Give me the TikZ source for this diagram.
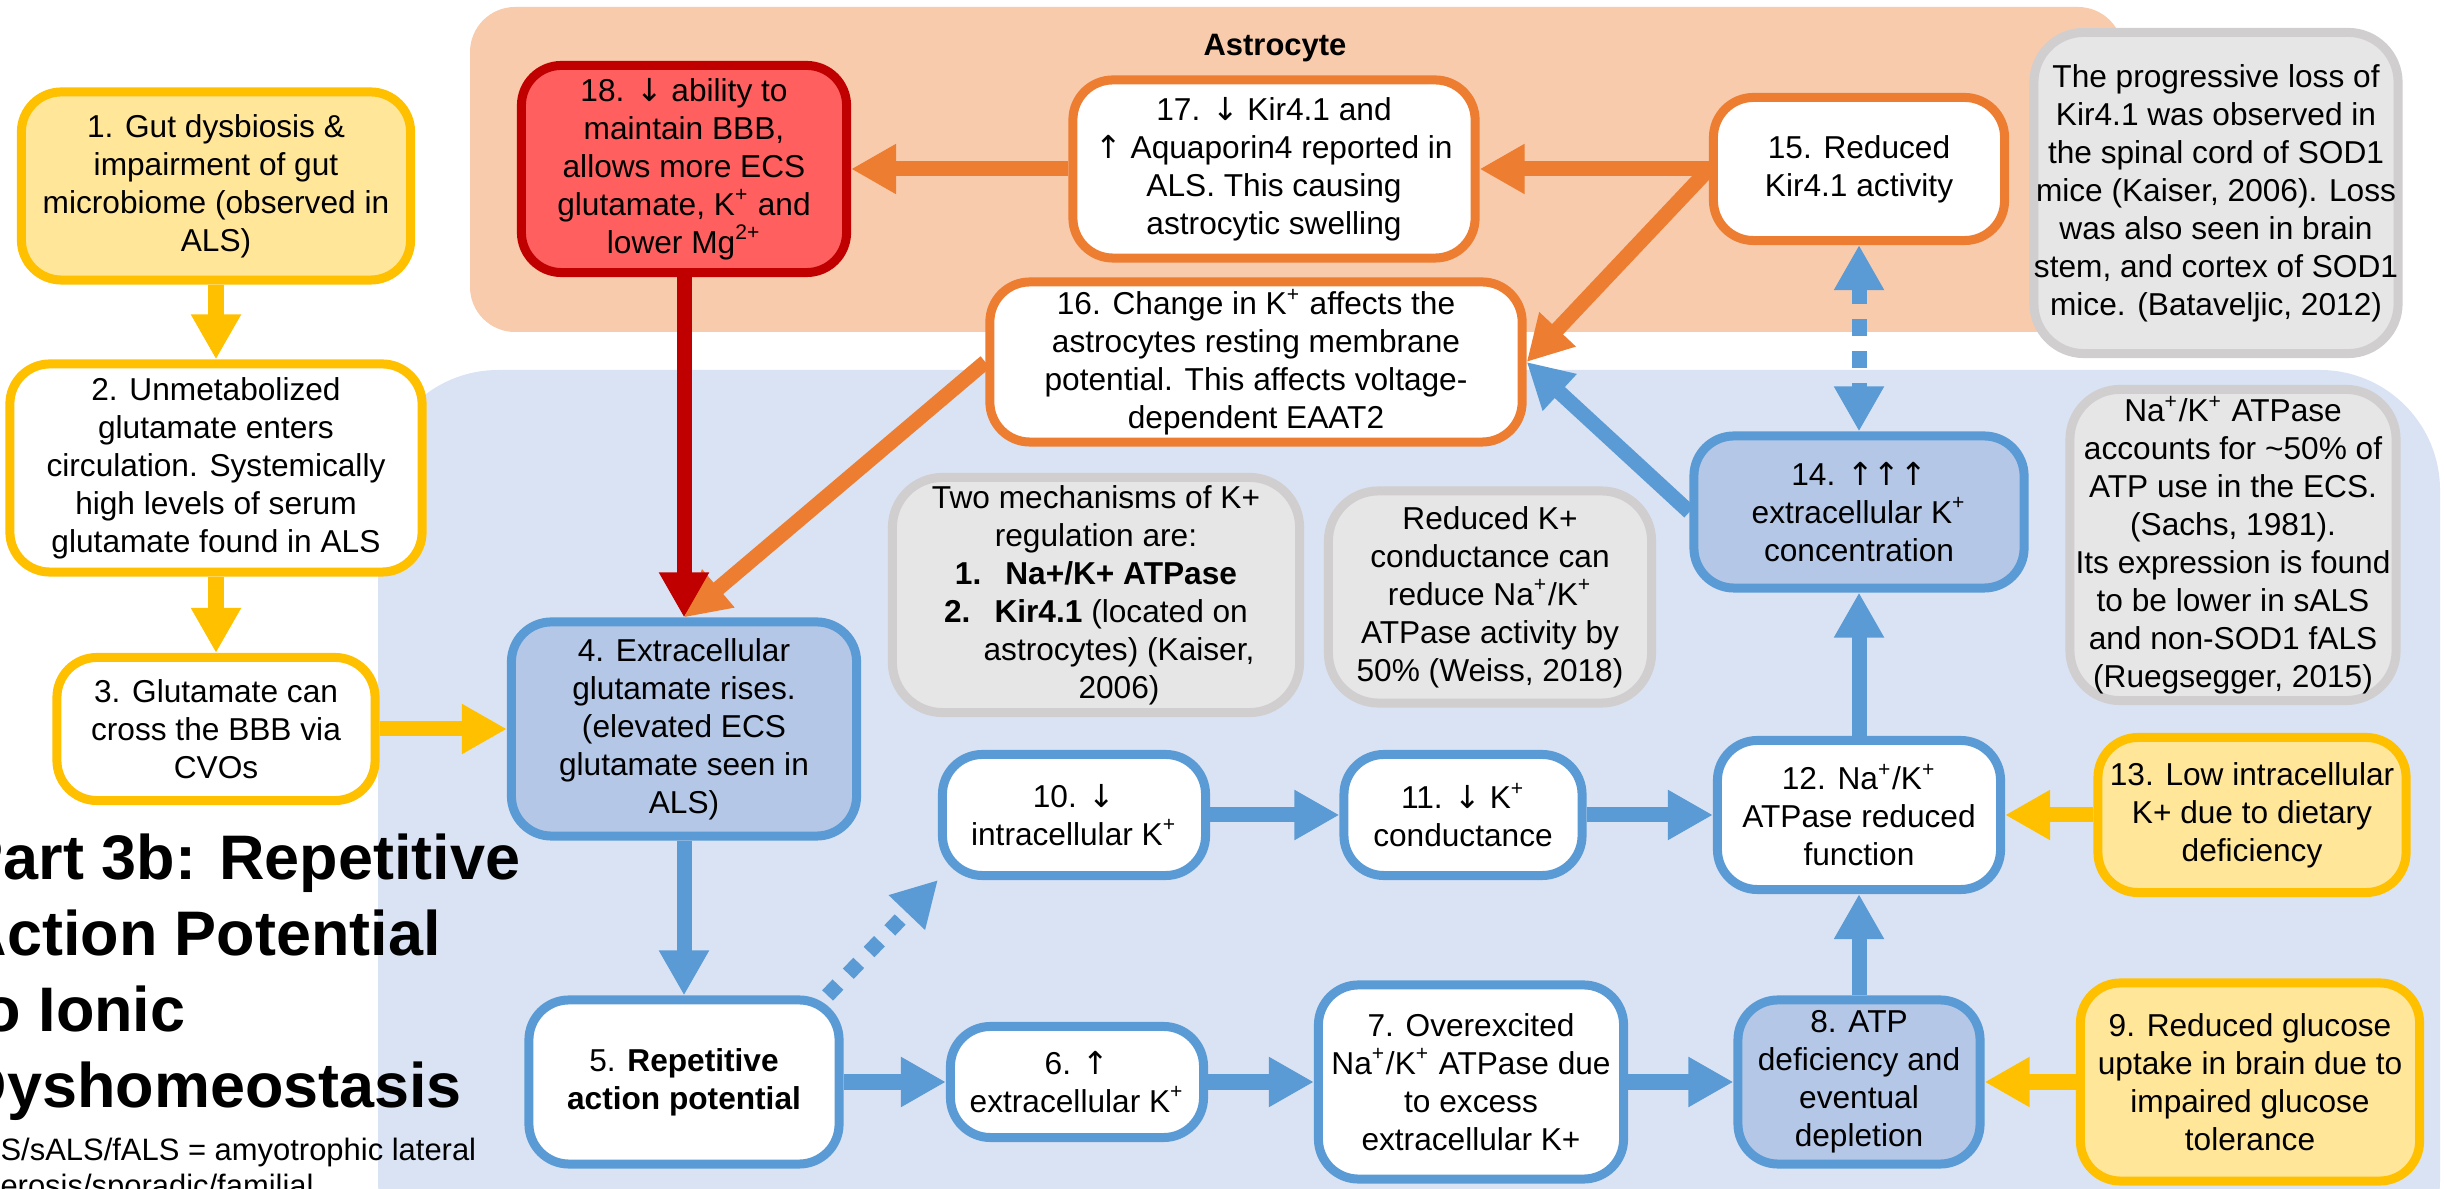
\documentclass[tikz,border=0pt]{standalone}
\usepackage{fontspec}
\setmainfont{Liberation Sans}
\newfontfamily\symfont{DejaVu Sans}
\usetikzlibrary{arrows.meta}

\definecolor{gold}{HTML}{FFC000}
\definecolor{paleyellow}{HTML}{FFE699}
\definecolor{steel}{HTML}{5B9BD5}
\definecolor{paleblue}{HTML}{B4C7E7}
\definecolor{bgblue}{HTML}{DAE3F3}
\definecolor{tangerine}{HTML}{ED7D31}
\definecolor{peach}{HTML}{F8CBAD}
\definecolor{darkred}{HTML}{C00000}
\definecolor{salmon}{HTML}{FF5F5F}
\definecolor{notegray}{HTML}{E7E6E6}
\definecolor{noteedge}{HTML}{D0CECE}

\newcommand{\kplus}{K\textsuperscript{+}}
\newcommand{\napump}{Na\textsuperscript{+}/K\textsuperscript{+}}
\newcommand{\arup}{{\symfont ↑}}
\newcommand{\ardown}{{\symfont ↓}}

\tikzset{
  stepnode/.style={rectangle, rounded corners=0.4cm, line width=0.09cm,
    align=center, inner sep=0pt, font=\fontsize{9pt}{10.8pt}\selectfont},
  yellowbox/.style={stepnode, draw=gold, fill=paleyellow},
  whiteyellow/.style={stepnode, draw=gold, fill=white},
  bluebox/.style={stepnode, draw=steel, fill=paleblue},
  whiteblue/.style={stepnode, draw=steel, fill=white},
  orangebox/.style={stepnode, draw=tangerine, fill=white},
  redbox/.style={stepnode, draw=darkred, fill=salmon},
  graynote/.style={stepnode, draw=noteedge, fill=notegray, rounded corners=0.5cm},
  flow/.style={line width=0.15cm, -{Triangle[length=0.45cm,width=0.47cm]}},
  dotflow/.style={flow, dash pattern=on 0.15cm off 0.15cm},
  dashflow/.style={line width=0.15cm,
    {Triangle[length=0.45cm,width=0.47cm]}-{Triangle[length=0.45cm,width=0.47cm]},
    dash pattern=on 0.17cm off 0.15cm},
  titletext/.style={font=\bfseries\fontsize{17.9pt}{21.6pt}\selectfont, inner sep=0pt},
  foottext/.style={font=\fontsize{8.8pt}{10.8pt}\selectfont, inner sep=0pt}
}

\begin{document}
\begin{tikzpicture}[x=0.01cm, y=-0.01cm]
    \useasboundingbox (0,0) rectangle (2445,1189);
    \clip (0,0) rectangle (2445,1189);

    % Astrocyte and extracellular space
    \fill[peach, rounded corners=0.45cm] (470,7) rectangle (2123,332);
    \fill[bgblue, rounded corners=1.2cm] (378,370) rectangle (2440,1300);
    \node[font=\bfseries\fontsize{8.8pt}{10.8pt}\selectfont] (astro) at (1275,48) {Astrocyte};

    % Entry of glutamate
    \node[yellowbox, minimum width=3.89cm, minimum height=1.88cm] (n1) at (216,186)
        {1. Gut dysbiosis \&\\ impairment of gut\\ microbiome (observed in\\ ALS)};
    \node[whiteyellow, minimum width=4.12cm, minimum height=2.08cm] (n2) at (216,468)
        {2. Unmetabolized\\ glutamate enters\\ circulation. Systemically\\ high levels of serum\\ glutamate found in ALS};
    \node[whiteyellow, minimum width=3.18cm, minimum height=1.43cm] (n3) at (216,729)
        {3. Glutamate can\\ cross the BBB via\\ CVOs};
    \node[bluebox, minimum width=3.45cm, minimum height=2.14cm] (n4) at (684,729)
        {4. Extracellular\\ glutamate rises.\\ (elevated ECS\\ glutamate seen in\\ ALS)};
    \node[whiteblue, minimum width=3.10cm, minimum height=1.64cm] (n5) at (684,1082)
        {5. \textbf{Repetitive}\\ \textbf{action potential}};

    % Bottom row
    \node[whiteblue, minimum width=2.53cm, minimum height=1.11cm] (n6) at (1077,1082)
        {6. \arup\\ extracellular \kplus};
    \node[whiteblue, minimum width=3.05cm, minimum height=1.94cm] (n7) at (1471,1082)
        {7. Overexcited\\ \napump{} ATPase due\\ to excess\\ extracellular K+};
    \node[bluebox, minimum width=2.42cm, minimum height=1.64cm] (n8) at (1859,1082)
        {8. ATP\\ deficiency and\\ eventual\\ depletion};
    \node[yellowbox, minimum width=3.39cm, minimum height=1.98cm] (n9) at (2250,1082)
        {9. Reduced glucose\\ uptake in brain due to\\ impaired glucose\\ tolerance};

    % Middle row
    \node[whiteblue, minimum width=2.63cm, minimum height=1.21cm] (n10) at (1074,815)
        {10. \ardown\\ intracellular \kplus};
    \node[whiteblue, minimum width=2.38cm, minimum height=1.21cm] (n11) at (1463,815)
        {11. \ardown{} \kplus\\ conductance};
    \node[whiteblue, minimum width=2.83cm, minimum height=1.49cm] (n12) at (1859,815)
        {12. \napump\\ ATPase reduced\\ function};
    \node[yellowbox, minimum width=3.08cm, minimum height=1.55cm] (n13) at (2252,815)
        {13. Low intracellular\\ K+ due to dietary\\ deficiency};
    \node[bluebox, minimum width=3.30cm, minimum height=1.52cm] (n14) at (1859,512)
        {14. \arup\arup\arup\\ extracellular \kplus\\ concentration};

    % Astrocyte steps
    \node[orangebox, minimum width=2.91cm, minimum height=1.43cm] (n15) at (1859,169)
        {15. Reduced\\ Kir4.1 activity};
    \node[orangebox, minimum width=5.32cm, minimum height=1.60cm] (n16) at (1256,362)
        {16. Change in \kplus{} affects the\\ astrocytes resting membrane\\ potential. This affects voltage-\\ dependent EAAT2};
    \node[orangebox, minimum width=4.02cm, minimum height=1.78cm] (n17) at (1274,169)
        {17. \ardown{} Kir4.1 and\\ \arup{} Aquaporin4 reported in\\ ALS. This causing\\ astrocytic swelling};
    \node[redbox, minimum width=3.25cm, minimum height=2.07cm] (n18) at (684,169)
        {18. \ardown{} ability to\\ maintain BBB,\\ allows more ECS\\ glutamate, \kplus{} and\\ lower Mg\textsuperscript{2+}};

    % Notes
    \node[graynote, minimum width=4.07cm, minimum height=2.35cm] (g1) at (1096,595)
        {Two mechanisms of K+\\ regulation are:\\
         \textbf{1.\hspace{0.24cm}Na+/K+ ATPase}\\
         \textbf{2.\hspace{0.24cm}Kir4.1} (located on\\
         \hspace*{0.46cm}astrocytes) (Kaiser,\\
         \hspace*{0.46cm}2006)};
    \node[graynote, minimum width=3.23cm, minimum height=2.12cm] (g2) at (1490,597)
        {Reduced K+\\ conductance can\\ reduce \napump\\ ATPase activity by\\ 50\% (Weiss, 2018)};
    \node[graynote, minimum width=3.64cm, minimum height=3.21cm] (g3) at (2216,193)
        {The progressive loss of\\ Kir4.1 was observed in\\ the spinal cord of SOD1\\ mice (Kaiser, 2006). Loss\\ was also seen in brain\\ stem, and cortex of SOD1\\ mice. (Bataveljic, 2012)};
    \node[graynote, minimum width=3.26cm, minimum height=3.11cm] (g4) at (2233,545)
        {\napump{} ATPase\\ accounts for \textasciitilde50\% of\\ ATP use in the ECS.\\ (Sachs, 1981).\\ Its expression is found\\ to be lower in sALS\\ and non-SOD1 fALS\\ (Ruegsegger, 2015)};

    % Arrows
    \draw[flow, gold] (n1) -- (n2);
    \draw[flow, gold] (n2) -- (n3);
    \draw[flow, gold] (n3) -- (n4);
    \draw[flow, steel] (n4) -- (n5);
    \draw[flow, steel] (n5) -- (n6);
    \draw[flow, steel] (n6) -- (n7);
    \draw[flow, steel] (n7) -- (n8);
    \draw[flow, gold] (n9) -- (n8);
    \draw[flow, steel] (n8) -- (n12);
    \draw[flow, steel] (n10) -- (n11);
    \draw[flow, steel] (n11) -- (n12);
    \draw[flow, gold] (n13) -- (n12);
    \draw[flow, steel] (n12) -- (n14);
    \draw[dotflow, steel] ([xshift=-0.16cm]n5.north east) -- (n10.south west);
    \draw[dashflow, steel] (n15) -- (n14);
    \draw[flow, steel] (n14.west) -- (n16.east);
    \draw[flow, tangerine] (n15.west) -- (n16.east);
    \draw[flow, tangerine] (n15) -- (n17);
    \draw[flow, tangerine] (n17) -- (n18);
    \draw[flow, tangerine] (n16.west) -- (n4.north);
    \draw[flow, darkred] (n18) -- (n4);

    % Title and abbreviations
    \foreach \txt [count=\i] in {Part 3b: Repetitive, Action Potential, to Ionic, Dyshomeostasis}
        \node[titletext, anchor=base west] (title\i) at (-39,{804+76*\i}) {\txt};
    \node[foottext, anchor=base west] (foot1) at (-38,1160) {ALS/sALS/fALS = amyotrophic lateral};
    \node[foottext, anchor=base west] (foot2) at (-38,1196) {sclerosis/sporadic/familial};
\end{tikzpicture}
\end{document}
